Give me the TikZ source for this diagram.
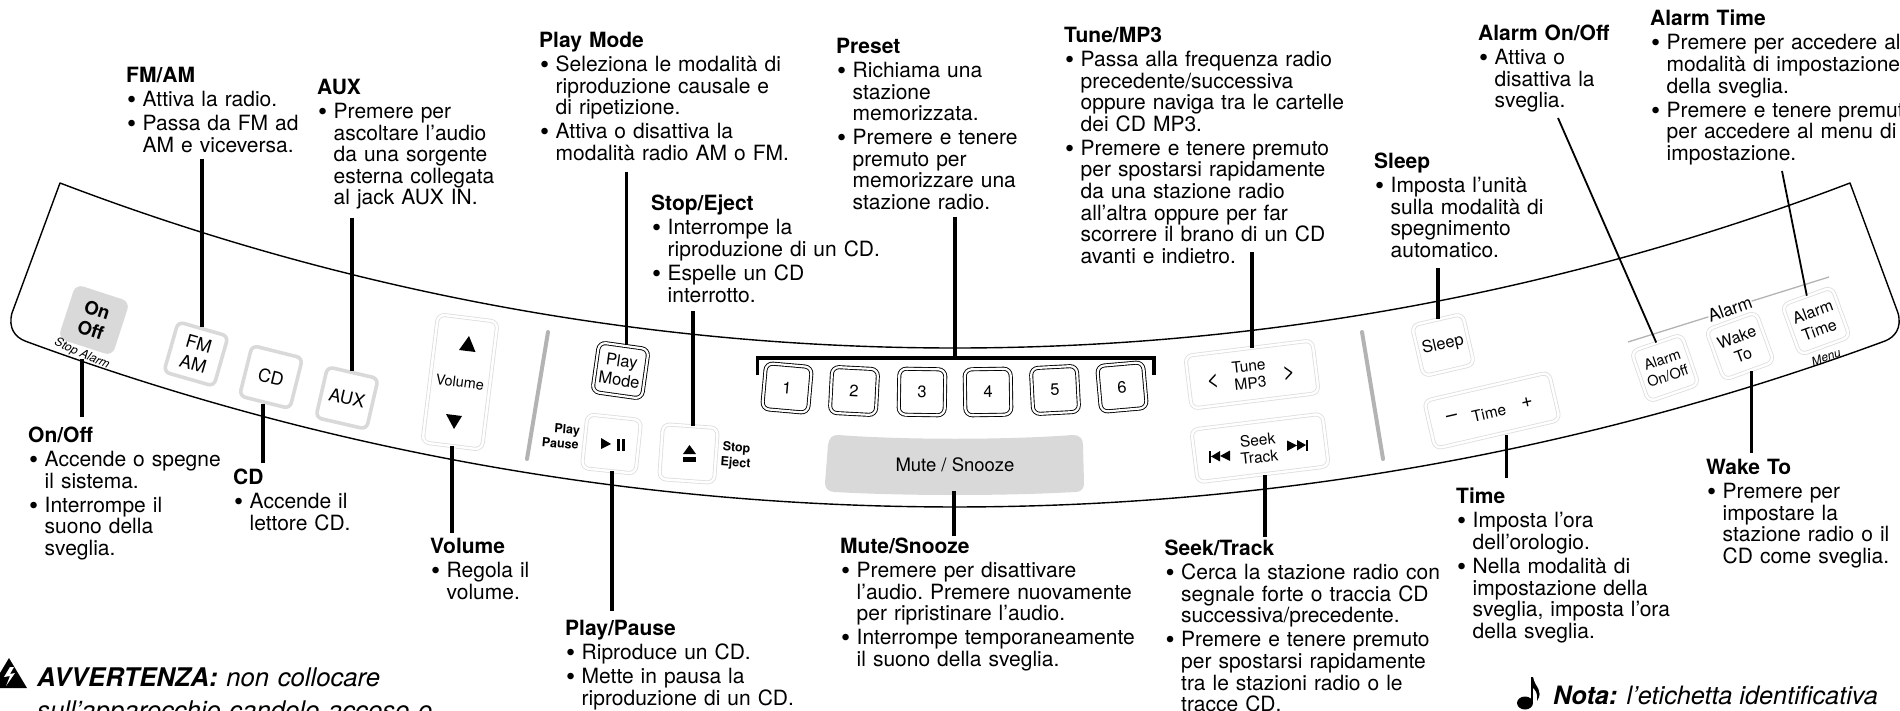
\documentclass[tikz,border=0pt]{standalone}
\usepackage{fontspec}
\setmainfont{TeX Gyre Heros}
\newcommand{\lblfont}{\fontsize{21}{21.6}\selectfont\raggedright\frenchspacing\parskip=2.4pt\relax}
\newcommand{\itm}{\par\leftskip=16.5pt\leavevmode\llap{\makebox[16.5pt][l]{\hspace{1pt}\raisebox{-2pt}{\fontsize{26}{26}\selectfont\textbullet}}}}
\definecolor{btngray}{HTML}{D9D9D9}
\definecolor{btnline}{HTML}{DDDDDD}
\definecolor{sepgray}{HTML}{B3B3B3}
\tikzset{
  lbl/.style={anchor=north west, inner sep=0pt, text width=#1, font=\lblfont},
  lead/.style={line width=3.2pt},
  thinlead/.style={line width=1.8pt},
  btntext/.style={font=\fontsize{16.5}{19}\selectfont, align=center},
  btnlight/.style={btntext, draw=btnline, double=white, double distance=2.4pt, line width=0.8pt, rounded corners=7pt, inner sep=0pt},
  btnblack/.style={btntext, draw=black, double=white, double distance=2.2pt, line width=0.9pt, rounded corners=7pt, inner sep=0pt, minimum size=46pt},
  btnthick/.style={btntext, font=\fontsize{18}{21}\selectfont, draw=btngray, line width=3.6pt, rounded corners=6pt, inner sep=0pt, minimum size=52pt},
  small/.style={font=\fontsize{12.5}{15}\selectfont\bfseries, inner sep=0pt},
  tiny/.style={font=\fontsize{14.5}{17}\selectfont, align=center, inner sep=0pt},
  sepline/.style={draw=sepgray, line width=4pt, line cap=round}
}
\begin{document}
\begin{tikzpicture}[x=1pt,y=-1pt]
  \useasboundingbox (0,0) rectangle (1900,711);

  % Panel
  \draw[line width=1.4pt, line join=round] (60,183) .. controls (636,403) and (1274,403) .. (1850,183)
    -- (1898,313) .. controls (1902,328) and (1895,337) .. (1885,341)
    .. controls (1285,562.3) and (625,562.3) .. (25,341)
    .. controls (15,337) and (8,328) .. (12,313) -- cycle;
  \draw[sepline] (548,332) -- (527,459);
  \draw[sepline] (1362,332) -- (1383,459);

  % Left buttons
  \node[btntext, fill=btngray, rounded corners=8pt, minimum size=57pt, rotate=-18, font=\fontsize{18.5}{21}\selectfont\bfseries] (btnOn) at (94,320) {On\\Off};
  \node[small, rotate=-24, font=\fontsize{12}{14}\selectfont\itshape] (lblStop) at (82,354) {Stop Alarm};
  \node[btnthick, rotate=-16] (btnFM) at (196,354) {FM\\AM};
  \node[btnthick, rotate=-14] (btnCD) at (271,377) {CD};
  \node[btnthick, rotate=-13] (btnAUX) at (347,398) {AUX};

  % Volume
  \node[btnlight, rotate=-7, minimum width=60pt, minimum height=129pt, tiny] (btnVol) at (460,382) {Volume};
  \fill (469,336) -- (475.5,352) -- (459,350) -- cycle;
  \fill (446,414) -- (462,416) -- (454,429) -- cycle;

  % Play and stop
  \node[btnblack, rotate=-8, minimum size=50pt] (btnMode) at (620.5,370.5) {Play\\Mode};
  \node[btnlight, rotate=-6, minimum size=54pt] (btnPlay) at (611.5,444) {};
  \fill (601,438) -- (611,444) -- (601,449) -- cycle;
  \fill (617,439) rectangle (619.5,451);
  \fill (622,439) rectangle (624.5,451);
  \node[small, rotate=-5, align=right] (lblPlay) at (561,436) {Play\\Pause};
  \node[btnlight, rotate=-4, minimum size=55pt] (btnStop) at (688.5,453.5) {};
  \fill (689.5,445) -- (696,454) -- (683,454) -- cycle;
  \fill (683,457) rectangle (696,462);
  \node[small, rotate=-4, align=center] (lblEject) at (736,456) {Stop\\Eject};

  % Preset buttons
  \node[btnblack, rotate=-5] (btnA) at (787,388) {1};
  \node[btnblack, rotate=-3] (btnB) at (854,391) {2};
  \node[btnblack, rotate=-1] (btnC) at (922,392) {3};
  \node[btnblack, rotate=1] (btnD) at (988,392) {4};
  \node[btnblack, rotate=3] (btnE) at (1055,390) {5};
  \node[btnblack, rotate=5] (btnF) at (1122,387) {6};

  % Mute
  \fill[btngray] (838,435) .. controls (905,440) and (1005,440) .. (1073,435)
    .. controls (1080,435) and (1083,439) .. (1083,445) -- (1084,483)
    .. controls (1084,490) and (1080,492) .. (1075,492)
    .. controls (1005,496) and (905,496) .. (835,492)
    .. controls (829,492) and (825,489) .. (825,483) -- (828,445)
    .. controls (829,438) and (832,435) .. (838,435) -- cycle;
  \node[btntext, font=\fontsize{18.5}{21}\selectfont, minimum width=258pt, minimum height=52pt, inner sep=0pt] (btnMute) at (955,465) {Mute / Snooze};

  % Tune and seek
  \node[btnlight, rotate=7, minimum width=128pt, minimum height=53pt] (btnTune) at (1252,374.5) {};
  \node[btntext, rotate=6, font=\fontsize{15.5}{17.5}\selectfont] (lblTune) at (1249.5,374.5) {Tune\\MP3};
  \node[btntext, rotate=6, font=\fontsize{22}{24}\selectfont, inner sep=0pt] (lblPrev) at (1213,381) {<};
  \node[btntext, rotate=6, font=\fontsize{22}{24}\selectfont, inner sep=0pt] (lblNext) at (1289,373) {>};
  \node[btnlight, rotate=7, minimum width=132pt, minimum height=53pt] (btnSeek) at (1260,448) {};
  \node[btntext, rotate=6, font=\fontsize{15.5}{17.5}\selectfont] (lblSeek) at (1258.5,448.5) {Seek\\Track};
  \fill (1209,451) rectangle (1211,463);
  \fill (1211,456.5) -- (1220,451) -- (1220,461.5) -- cycle;
  \fill (1220,456) -- (1230,450.5) -- (1230,461) -- cycle;
  \fill (1287,440.5) -- (1297,445.5) -- (1287,451) -- cycle;
  \fill (1297,440) -- (1306,445) -- (1297,450.5) -- cycle;
  \fill (1306,439.5) rectangle (1308,451);

  % Sleep and time
  \node[btnlight, btntext, rotate=13, minimum size=52pt, font=\fontsize{16.5}{19}\selectfont] (btnSleep) at (1443,345) {Sleep};
  \node[btnlight, rotate=13, minimum width=128pt, minimum height=49pt] (btnTime) at (1492,410.5) {};
  \node[btntext, rotate=13, font=\fontsize{15.5}{17}\selectfont, inner sep=0pt] (lblTime) at (1489,413) {Time};
  \node[btntext, rotate=13, font=\fontsize{20}{22}\selectfont, inner sep=0pt] (lblMinus) at (1452,418) {--};
  \node[btntext, rotate=13, font=\fontsize{20}{22}\selectfont, inner sep=0pt] (lblPlus) at (1527,403) {+};

  % Alarm group
  \node[btnlight, rotate=19, minimum size=53pt, tiny] (btnAoo) at (1665,368) {Alarm\\On/Off};
  \node[btnlight, btntext, rotate=20, minimum size=53pt, font=\fontsize{16}{19}\selectfont] (btnWake) at (1740,346) {Wake\\To};
  \node[btnlight, btntext, rotate=20, minimum size=53pt, font=\fontsize{16}{19}\selectfont] (btnAt) at (1816,321) {Alarm\\Time};
  \node[btntext, rotate=20, font=\fontsize{17.5}{19}\selectfont, inner sep=0pt] (lblAlarm) at (1730,309) {Alarm};
  \coordinate (grpA) at (1628,342);
  \coordinate (grpB) at (1829,277);
  \draw[sepgray, line width=1.3pt] (grpA) -- (lblAlarm.west);
  \draw[sepgray, line width=1.3pt] (lblAlarm.east) -- (grpB);
  \node[btntext, rotate=20, font=\fontsize{12}{14}\selectfont\itshape, inner sep=0pt] (lblMenu) at (1826,357) {Menu};

  % Labels above
  \node[lbl=176pt] (lblFM) at (126,67) {\textbf{FM/AM}\itm Attiva la radio.\itm Passa da FM ad\\AM e viceversa.\par};
  \node[lbl=182pt] (lblAux) at (317,79) {\textbf{AUX}\itm Premere per\\ascoltare l’audio\\da una sorgente\\esterna collegata\\al jack AUX IN.\par};
  \node[lbl=255pt] (lblMode) at (539,32) {\textbf{Play Mode}\itm Seleziona le modalità di\\riproduzione causale e\\di ripetizione.\itm Attiva o disattiva la\\modalità radio AM o FM.\par};
  \node[lbl=232pt] (lblEj) at (651,195) {\textbf{Stop/Eject}\itm Interrompe la\\riproduzione di un CD.\itm Espelle un CD\\interrotto.\par};
  \node[lbl=186pt] (lblPreset) at (836,38) {\textbf{Preset}\itm Richiama una\\stazione\\memorizzata.\itm Premere e tenere\\premuto per\\memorizzare una\\stazione radio.\par};
  \node[lbl=285pt] (lblTm) at (1064,27) {\textbf{Tune/MP3}\itm Passa alla frequenza radio\\precedente/successiva\\oppure naviga tra le cartelle\\dei CD MP3.\itm Premere e tenere premuto\\per spostarsi rapidamente\\da una stazione radio\\all’altra oppure per far\\scorrere il brano di un CD\\avanti e indietro.\par};
  \node[lbl=175pt] (lblSl) at (1374,153) {\textbf{Sleep}\itm Imposta l’unità\\sulla modalità di\\spegnimento\\automatico.\par};
  \node[lbl=135pt] (lblAo) at (1478,25) {\textbf{Alarm On/Off}\itm Attiva o\\disattiva la\\sveglia.\par};
  \node[lbl=290pt] (lblAt) at (1650,10) {\textbf{Alarm Time}\itm Premere per accedere alla\\modalità di impostazione\\della sveglia.\itm Premere e tenere premuto\\per accedere al menu di\\impostazione.\par};

  % Labels below
  \node[lbl=198pt] (lblOn) at (28,427) {\textbf{On/Off}\itm Accende o spegne\\il sistema.\itm Interrompe il\\suono della\\sveglia.\par};
  \node[lbl=120pt] (lblCd) at (233,469) {\textbf{CD}\itm Accende il\\lettore CD.\par};
  \node[lbl=104pt] (lblVol) at (430,538) {\textbf{Volume}\itm Regola il\\volume.\par};
  \node[lbl=233pt] (lblPp) at (565,620) {\textbf{Play/Pause}\itm Riproduce un CD.\itm Mette in pausa la\\riproduzione di un CD.\par};
  \node[lbl=300pt] (lblMu) at (840,538) {\textbf{Mute/Snooze}\itm Premere per disattivare\\l’audio. Premere nuovamente\\per ripristinare l’audio.\itm Interrompe temporaneamente\\il suono della sveglia.\par};
  \node[lbl=280pt] (lblSk) at (1164.5,540) {\textbf{Seek/Track}\itm Cerca la stazione radio con\\segnale forte o traccia CD\\successiva/precedente.\itm Premere e tenere premuto\\per spostarsi rapidamente\\tra le stazioni radio o le\\tracce CD.\par};
  \node[lbl=218pt] (lblTi) at (1456,488) {\textbf{Time}\itm Imposta l’ora\\dell’orologio.\itm Nella modalità di\\impostazione della\\sveglia, imposta l’ora\\della sveglia.\par};
  \node[lbl=188pt] (lblWk) at (1706,459) {\textbf{Wake To}\itm Premere per\\impostare la\\stazione radio o il\\CD come sveglia.\par};

  % Leader ends
  \coordinate (endFM) at (202,159);
  \coordinate (endAux) at (352,218);
  \coordinate (endMode) at (626.5,172);
  \coordinate (endEj) at (693,311);
  \coordinate (endPreset) at (955,217);
  \coordinate (endTm) at (1252,252);
  \coordinate (endSl) at (1438,268);
  \coordinate (endAo) at (1558,118);
  \coordinate (endAt) at (1782,171);
  \coordinate (endOn) at (82,417);
  \coordinate (endCd) at (263,463);
  \coordinate (endVol) at (452,533);
  \coordinate (endPp) at (612,611);
  \coordinate (endMu) at (954,536);
  \coordinate (endSk) at (1265,537);
  \coordinate (endTi) at (1506.5,478);
  \coordinate (endWk) at (1751.5,453);

  % Leaders
  \draw[lead] (endFM) -- (endFM |- btnFM.north);
  \draw[lead] (endAux) -- (endAux |- btnAUX.north);
  \draw[lead] (endMode) -- (endMode |- btnMode.north);
  \draw[lead] (endEj) -- (endEj |- btnStop.north);
  \draw[lead] (endTm) -- (endTm |- btnTune.north);
  \draw[lead] (endSl) -- (endSl |- btnSleep.north);
  \draw[thinlead] (endAo) -- (btnAoo.north);
  \draw[thinlead] (endAt) -- (btnAt.north);
  \draw[lead] (endOn) -- (endOn |- lblStop.south);
  \draw[lead] (endCd) -- (endCd |- btnCD.south);
  \draw[lead] (endVol) -- (endVol |- btnVol.south);
  \draw[lead] (endPp) -- (endPp |- btnPlay.south);
  \draw[lead] (endMu) -- (endMu |- btnMute.south);
  \draw[lead] (endSk) -- (endSk |- btnSeek.south);
  \draw[lead] (endTi) -- (endTi |- btnTime.south);
  \draw[lead] (endWk) -- (endWk |- btnWake.south);

  % Preset bracket
  \coordinate (brkL) at (757.5,375);
  \coordinate (brkR) at (1154,375);
  \coordinate (brkT) at (955,358);
  \draw[lead] (brkL) |- (brkT) -| (brkR);
  \draw[lead] (endPreset) -- (brkT);

  % Warning and note
  \fill (9,658) -- (27,688) -- (-9,688) -- cycle;
  \fill[white] (10,667) -- (4,677) -- (10,676) -- (6,686) -- (15,673) -- (10,674) -- (14,667) -- cycle;
  \node[anchor=north west, inner sep=0pt, font=\fontsize{25.7}{33}\selectfont, text width=420pt] (lblWarn) at (37,667.5) {\textbf{\itshape AVVERTENZA:} \textit{non collocare}\\\textit{sull’apparecchio candele accese o}};
  \fill (1525,703) ellipse (8pt and 6.5pt);
  \fill (1531,703) rectangle (1533,677);
  \fill (1533,677) .. controls (1535,688) and (1544,690) .. (1537,701) .. controls (1538,692) and (1535,690) .. (1533,688) -- cycle;
  \node[anchor=base west, inner sep=0pt, font=\fontsize{25.3}{33}\selectfont] (lblNota) at (1553,704) {\textbf{\itshape Nota:} \textit{l’etichetta identificativa}};
\end{tikzpicture}
\end{document}
